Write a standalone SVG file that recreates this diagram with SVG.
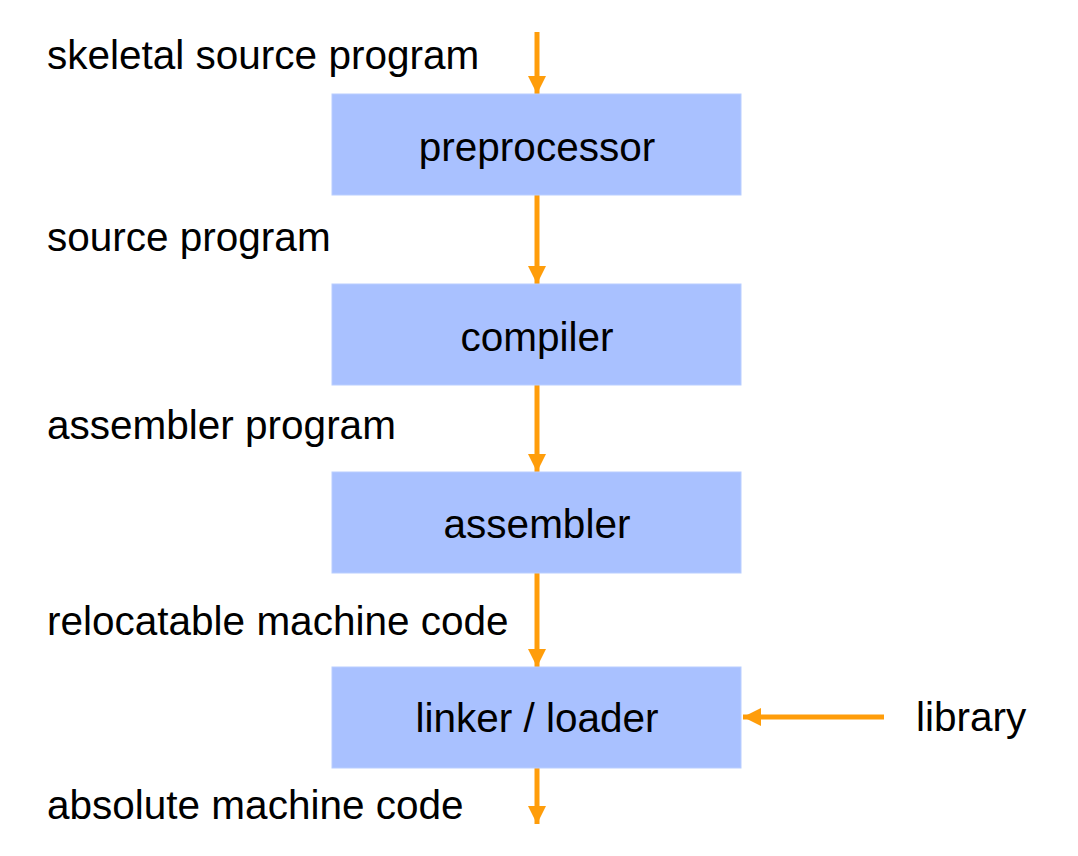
<svg xmlns="http://www.w3.org/2000/svg" width="1078" height="856" viewBox="0 0 1078 856">
<style>
.box{fill:#a9c1ff;stroke:#b9ceff;stroke-width:1}
.t{font-family:"Liberation Sans",Arial,sans-serif;font-size:40.5px;fill:#000}
.c{text-anchor:middle}
.e{stroke:#ff9d0a;stroke-width:5;fill:none;marker-end:url(#ah)}
</style>
<defs>
<marker id="ah" markerUnits="userSpaceOnUse" markerWidth="20" markerHeight="20" viewBox="0 0 20 20" refX="18" refY="10" orient="auto">
<path d="M0,1 L18,10 L0,19 Z" fill="#ff9d0a"/>
</marker>
</defs>
<rect width="1078" height="856" fill="#ffffff"/>
<g id="connectors">
<line class="e" x1="537" y1="32" x2="537" y2="94"/>
<line class="e" x1="537" y1="195" x2="537" y2="284"/>
<line class="e" x1="537" y1="385" x2="537" y2="472"/>
<line class="e" x1="537" y1="573" x2="537" y2="667"/>
<line class="e" x1="537" y1="768" x2="537" y2="824"/>
<line class="e" x1="884" y1="717" x2="743" y2="717"/>
</g>
<g id="preprocessor"><rect class="box" x="332" y="94" width="409" height="101"/><text class="t c" x="537" y="161">preprocessor</text></g>
<g id="compiler"><rect class="box" x="332" y="284" width="409" height="101"/><text class="t c" x="537" y="351">compiler</text></g>
<g id="assembler"><rect class="box" x="332" y="472" width="409" height="101"/><text class="t c" x="537" y="538">assembler</text></g>
<g id="linker"><rect class="box" x="332" y="667" width="409" height="101"/><text class="t c" x="537" y="732">linker / loader</text></g>
<g id="labels">
<text class="t" x="47" y="69">skeletal source program</text>
<text class="t" x="47" y="251">source program</text>
<text class="t" x="47" y="439">assembler program</text>
<text class="t" x="47" y="635">relocatable machine code</text>
<text class="t" x="47" y="819">absolute machine code</text>
<text class="t" x="916" y="731">library</text>
</g>
</svg>
